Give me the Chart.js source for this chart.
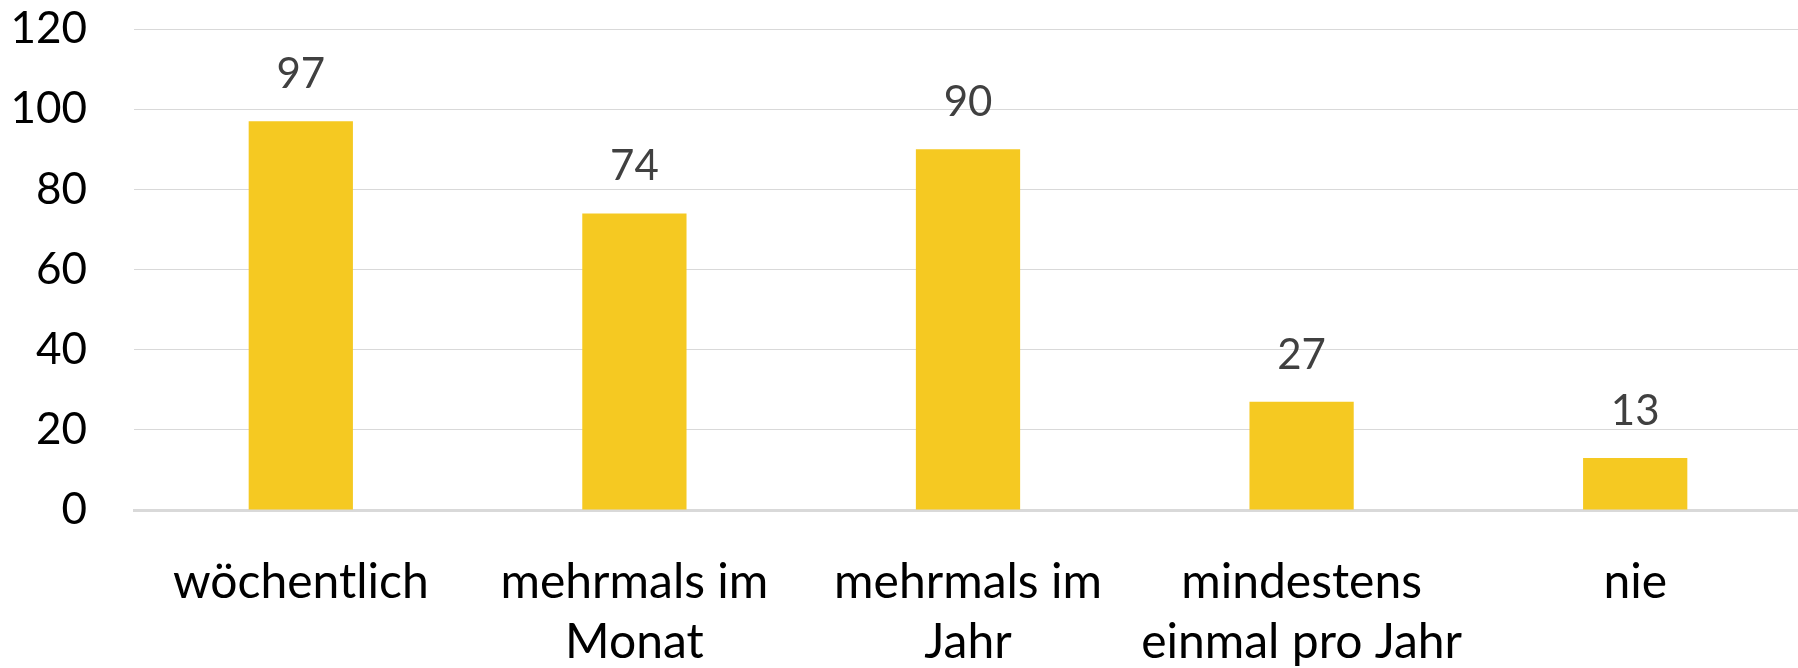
<!DOCTYPE html>
<html lang="de">
<head>
<meta charset="utf-8">
<title>Häufigkeit</title>
<script src="https://cdn.jsdelivr.net/npm/chart.js@4"></script>
<style>
  html, body { margin: 0; padding: 0; background: #ffffff; overflow: hidden; }
  #wrap { width: 1798px; height: 668px; overflow: hidden; }
  canvas { display: block; }
</style>
</head>
<body>
<div id="wrap"><canvas id="chart" width="1804" height="668"></canvas></div>
<script>
// Kategorien (mehrzeilige Beschriftungen als Arrays)
const categories = [
  'wöchentlich',
  ['mehrmals im', 'Monat'],
  ['mehrmals im', 'Jahr'],
  ['mindestens', 'einmal pro Jahr'],
  'nie'
];
const values = [97, 74, 90, 27, 13];
const yTicks = [0, 20, 40, 60, 80, 100, 120];

const FONT = 'Lato, "Open Sans", sans-serif';

// Werte über den Balken ausgeben
const valueLabels = {
  id: 'valueLabels',
  afterDatasetsDraw(chart) {
    const ctx = chart.ctx;
    const meta = chart.getDatasetMeta(0);
    ctx.save();
    ctx.font = '42px ' + FONT;
    ctx.fillStyle = '#404040';
    ctx.textAlign = 'center';
    ctx.textBaseline = 'alphabetic';
    meta.data.forEach((bar, i) => {
      ctx.fillText(String(values[i]), bar.x, bar.y - 33);
    });
    ctx.restore();
  }
};

new Chart(document.getElementById('chart'), {
  type: 'bar',
  data: {
    labels: categories,
    datasets: [{
      data: values,
      backgroundColor: '#F5C922',
      borderWidth: 0,
      categoryPercentage: 1,
      barPercentage: 0.3125
    }]
  },
  options: {
    responsive: false,
    animation: false,
    devicePixelRatio: 1,
    layout: { padding: { top: 29, right: 2, left: 0, bottom: 0 } },
    plugins: {
      legend: { display: false },
      tooltip: { enabled: false }
    },
    scales: {
      x: {
        grid: { display: false, drawTicks: false },
        border: { display: true, color: '#d9d9d9', width: 3 },
        ticks: {
          color: '#000000',
          font: { family: FONT, size: 48, lineHeight: 1.25 },
          padding: 43,
          maxRotation: 0,
          autoSkip: false
        },
        afterFit(scale) {
          scale.height = 158;
          scale.paddingLeft = 0;
          scale.paddingRight = 0;
        }
      },
      y: {
        min: 0,
        max: 120,
        afterBuildTicks(scale) { scale.ticks = yTicks.map(v => ({ value: v })); },
        grid: { color: '#d9d9d9', lineWidth: 1, drawTicks: false },
        border: { display: false },
        ticks: {
          color: '#000000',
          font: { family: FONT, size: 44 },
          padding: 47
        },
        afterFit(scale) {
          scale.width = 134;
          scale.paddingTop = 0;
          scale.paddingBottom = 0;
        }
      }
    }
  },
  plugins: [valueLabels]
});
</script>
</body>
</html>
